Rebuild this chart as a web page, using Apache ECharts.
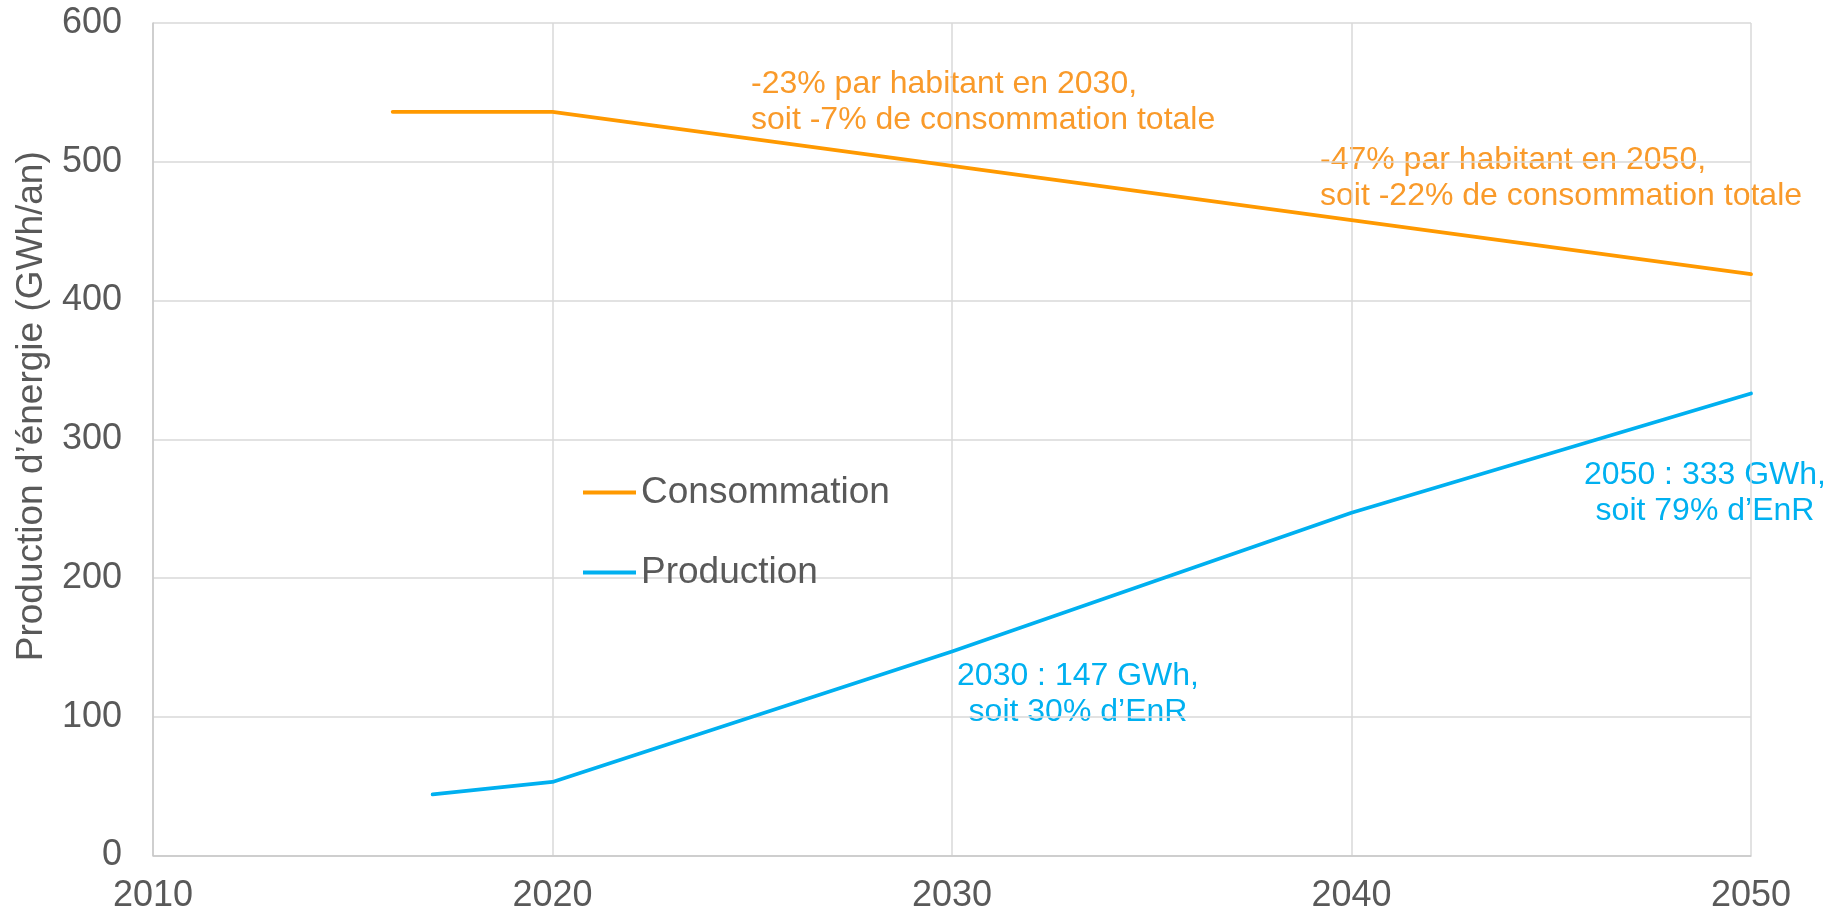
<!DOCTYPE html>
<html>
<head>
<meta charset="utf-8">
<script src="https://cdn.jsdelivr.net/npm/echarts@6/dist/echarts.min.js"></script>
<style>
html,body{margin:0;padding:0;background:#fff;}
#chart{width:1835px;height:917px;}
</style>
</head>
<body>
<div id="chart"></div>
<script>
const consoYears = [2016, 2020, 2030, 2040, 2050];
const consoValues = [536, 536, 497, 458, 419];
const prodYears = [2017, 2020, 2030, 2040, 2050];
const prodValues = [44, 53, 147, 247, 333];
const seriesNames = ['Consommation', 'Production'];
const yAxisTitle = 'Production d\u2019énergie (GWh/an)';
const annotConso2030 = ['-23% par habitant en 2030,', 'soit -7% de consommation totale'];
const annotConso2050 = ['-47% par habitant en 2050,', 'soit -22% de consommation totale'];
const annotProd2030 = ['2030 : 147 GWh,', 'soit 30% d\u2019EnR'];
const annotProd2050 = ['2050 : 333 GWh,', 'soit 79% d\u2019EnR'];

const ORANGE = '#FF9900';
const ORANGE_TXT = '#F99A2A';
const BLUE = '#00B0F0';
const GRAY = '#595959';
const FONT = '"Liberation Sans", Arial, sans-serif';

const chart = echarts.init(document.getElementById('chart'));
const zip = (xs, ys) => xs.map((x, i) => [x, ys[i]]);

function annot(lines, x, y, color, align) {
  return {
    type: 'text', x: x, y: y,
    style: {
      text: lines.join('\n'), fill: color, font: '32px ' + FONT,
      lineHeight: 36, align: align, verticalAlign: 'top'
    }
  };
}

chart.setOption({
  backgroundColor: '#ffffff',
  animation: false,
  textStyle: { fontFamily: FONT },
  grid: { left: 153, right: 84, top: 23, bottom: 61.5, containLabel: false },
  legend: {
    orient: 'vertical', left: 578, top: 469, itemGap: 43,
    itemWidth: 53, itemHeight: 4, icon: 'rect',
    textStyle: { fontSize: 37, color: GRAY, fontFamily: FONT, lineHeight: 37 },
    data: seriesNames
  },
  xAxis: {
    type: 'value', min: 2010, max: 2050, interval: 10,
    axisLine: { show: true, lineStyle: { color: '#C8C8C8', width: 1.5 } },
    axisTick: { show: false },
    axisLabel: { fontSize: 36, color: GRAY, margin: 23, fontFamily: FONT,
                 formatter: v => String(v) },
    splitLine: { show: true, lineStyle: { color: '#D9D9D9', width: 1.5 } }
  },
  yAxis: {
    type: 'value', min: 0, max: 600, interval: 100,
    name: yAxisTitle, nameLocation: 'middle', nameGap: 103,
    nameTextStyle: { fontSize: 37, color: GRAY, fontFamily: FONT, padding: [0, 0, 0, 66] },
    axisLine: { show: true, lineStyle: { color: '#C8C8C8', width: 1.5 } },
    axisTick: { show: false },
    axisLabel: { fontSize: 36, color: GRAY, margin: 31, fontFamily: FONT },
    splitLine: { show: true, lineStyle: { color: '#D9D9D9', width: 1.5 } }
  },
  series: [
    {
      name: seriesNames[0], type: 'line', data: zip(consoYears, consoValues),
      showSymbol: false, symbol: 'none', color: ORANGE,
      lineStyle: { color: ORANGE, width: 3.8, cap: 'round', join: 'round' }
    },
    {
      name: seriesNames[1], type: 'line', data: zip(prodYears, prodValues),
      showSymbol: false, symbol: 'none', color: BLUE,
      lineStyle: { color: BLUE, width: 3.8, cap: 'round', join: 'round' }
    }
  ],
  graphic: [
    annot(annotConso2030, 751, 66, ORANGE_TXT, 'left'),
    annot(annotConso2050, 1320, 142, ORANGE_TXT, 'left'),
    annot(annotProd2030, 1078, 658, BLUE, 'center'),
    annot(annotProd2050, 1705, 457, BLUE, 'center')
  ]
});
</script>
</body>
</html>
